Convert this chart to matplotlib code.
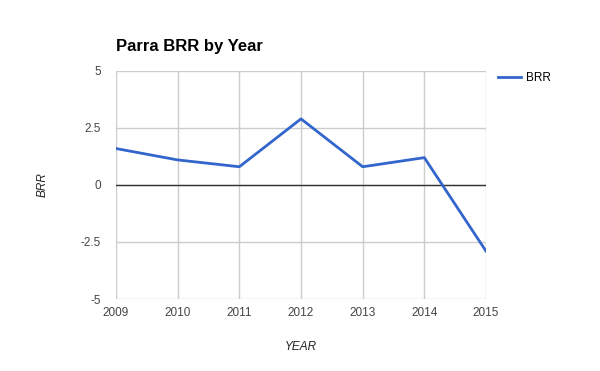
import matplotlib
matplotlib.use("Agg")
import matplotlib.pyplot as plt

years = [2009, 2010, 2011, 2012, 2013, 2014, 2015]
brr = [1.6, 1.1, 0.8, 2.9, 0.8, 1.2, -2.9]
yticks = [-5, -2.5, 0, 2.5, 5]
ytick_labels = ["-5", "-2.5", "0", "2.5", "5"]

plt.rcParams['font.family'] = ['Liberation Sans', 'DejaVu Sans']

fig = plt.figure(figsize=(6, 3.71), dpi=100)
ax = fig.add_axes([116/600, 72/371, 370/600, 228/371])

ax.plot(years, brr, color='#3366CC', lw=2, label='BRR', zorder=3)
ax.axhline(0, color='#333333', lw=1, zorder=2)

ax.set_xlim(2009, 2015)
ax.set_ylim(-5, 5)
ax.set_xticks(years)
ax.set_xticklabels([str(y) for y in years])
ax.set_yticks(yticks)
ax.set_yticklabels(ytick_labels)
ax.grid(True, color='#cccccc', lw=1, zorder=0)
for s in ax.spines.values():
    s.set_visible(False)
ax.tick_params(length=0, labelsize=8.5, colors='#444444', pad=6)
ax.tick_params(axis='y', pad=11)

ax.set_xlabel('YEAR', fontstyle='italic', fontsize=8.5, color='#222222', labelpad=15.5)
ax.set_ylabel('BRR', fontstyle='italic', fontsize=8.5, color='#222222', labelpad=23)

fig.text(116/600, 1 - 46/371, 'Parra BRR by Year', fontsize=12, fontweight='bold',
         ha='left', va='center', color='#000000')

ax.legend(loc='upper left', bbox_to_anchor=(1.0, 1.046), frameon=False, fontsize=8.5,
          handlelength=2.0, handletextpad=0.42, borderaxespad=0.6)

fig.savefig('out.png', dpi=100)
